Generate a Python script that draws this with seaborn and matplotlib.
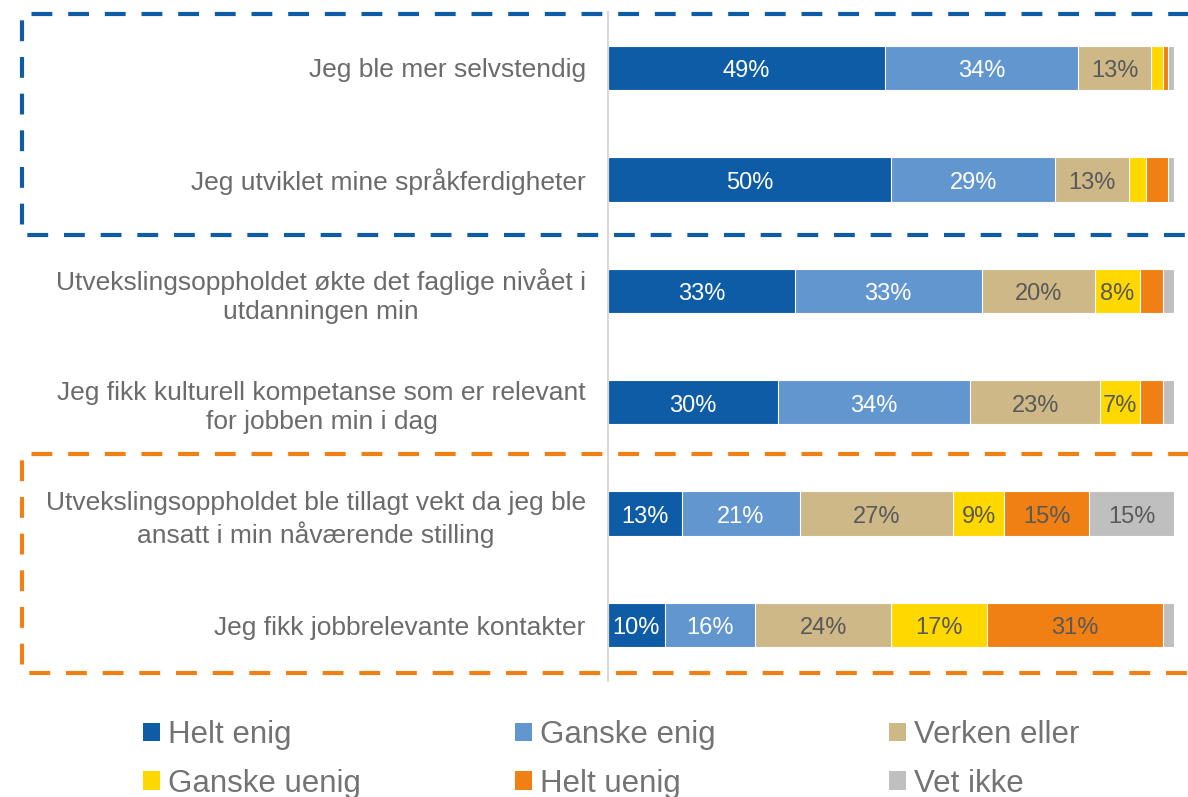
import numpy as np
import pandas as pd
import matplotlib
matplotlib.use("Agg")
import matplotlib.pyplot as plt
import seaborn as sns
from matplotlib.patches import Patch
from matplotlib.lines import Line2D

# statements (top to bottom)
statements = [
    "Jeg ble mer selvstendig",
    "Jeg utviklet mine språkferdigheter",
    "Utvekslingsoppholdet økte det faglige nivået i\nutdanningen min",
    "Jeg fikk kulturell kompetanse som er relevant\nfor jobben min i dag",
    "Utvekslingsoppholdet ble tillagt vekt da jeg ble\nansatt i min nåværende stilling",
    "Jeg fikk jobbrelevante kontakter",
]

# answer categories and shares (%)
categories = ["Helt enig", "Ganske enig", "Verken eller",
              "Ganske uenig", "Helt uenig", "Vet ikke"]
helt_enig = [49, 50, 33, 30, 13, 10]
ganske_enig = [34, 29, 33, 34, 21, 16]
verken_eller = [13, 13, 20, 23, 27, 24]
ganske_uenig = [2, 3, 8, 7, 9, 17]
helt_uenig = [1, 4, 4, 4, 15, 31]
vet_ikke = [1, 1, 2, 2, 15, 2]

colors = ["#0E5CA6", "#6296CE", "#CFB887", "#FFD800", "#F07F14", "#BFBFBF"]
text_colors = ["white", "white", "#595959", "#595959", "#595959", "#595959"]

series = [helt_enig, ganske_enig, verken_eller, ganske_uenig, helt_uenig, vet_ikke]
df = pd.DataFrame({c: s for c, s in zip(categories, series)})
df["statement"] = statements
cum = df[categories].cumsum(axis=1)

sns.set_theme(style="white")
plt.rcParams["font.family"] = ["Liberation Sans", "DejaVu Sans"]

fig = plt.figure(figsize=(11.88, 7.97), dpi=100)
ax = fig.add_axes([608 / 1188, 1 - 680.7 / 797, (1174 - 608) / 1188, (680.7 - 12.3) / 797])

# stacked bars: draw cumulative totals from the last category backwards
for i in reversed(range(len(categories))):
    sns.barplot(x=cum[categories[i]], y=df["statement"], orient="h",
                color=colors[i], width=0.4, edgecolor="white", linewidth=0.8,
                saturation=1, ax=ax)

# value labels
for i, cat in enumerate(categories):
    for j, v in enumerate(df[cat]):
        if v >= 5:
            ax.text(cum[cat][j] - v / 2, j + 0.03, f"{v}%", ha="center", va="center",
                    fontsize=17, color=text_colors[i])

ax.set_xlim(0, 100)
ax.set_ylim(5.5, -0.5)
ax.set_xlabel("")
ax.set_ylabel("")
ax.set_xticks([])
for s in ["top", "right", "bottom"]:
    ax.spines[s].set_visible(False)
ax.spines["left"].set_color("#D9D9D9")
ax.spines["left"].set_linewidth(1.5)
ax.tick_params(axis="y", length=0, pad=16, labelsize=19, labelcolor="#6B6B6B")
for lbl in ax.get_yticklabels():
    lbl.set_multialignment("center")
    lbl.set_linespacing(1.3)

# dashed highlight boxes (open on the right side)
W, H = 1188, 797
def box(x0, y0, y1, color):
    xs = [1200 / W, x0 / W, x0 / W, 1200 / W]
    ys = [1 - y0 / H, 1 - y0 / H, 1 - y1 / H, 1 - y1 / H]
    fig.add_artist(Line2D(xs, ys, transform=fig.transFigure, color=color,
                          lw=3, linestyle=(0, (5, 3.8)), clip_on=False))

box(22, 14, 235, "#0E5CA6")
box(22, 454, 673, "#F07F14")

# legend, row-wise in three columns
handles = [Patch(facecolor=c, edgecolor="none") for c in colors]
col_x = [143, 515, 889]
for k in range(3):
    leg = fig.legend([handles[k], handles[k + 3]], [categories[k], categories[k + 3]],
                     loc="upper left", bbox_to_anchor=(col_x[k] / W, 1 - 720 / H),
                     frameon=False, fontsize=22.5, handlelength=0.53, handleheight=0.53,
                     handletextpad=0.26, labelspacing=0.6, borderpad=0, borderaxespad=0)
    for t in leg.get_texts():
        t.set_color("#737373")

fig.savefig("out.png", dpi=100)
